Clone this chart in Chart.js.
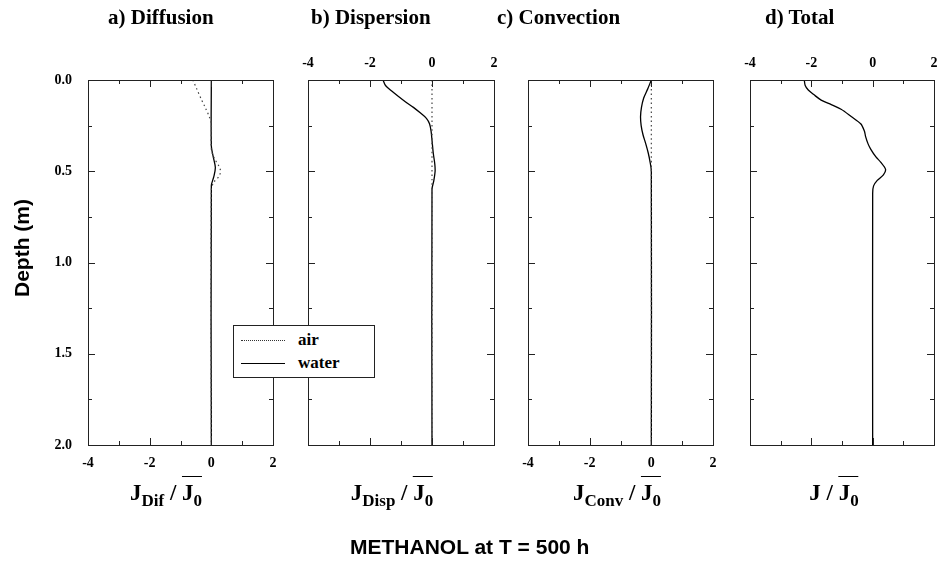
<!DOCTYPE html>
<html>
<head>
<meta charset="utf-8">
<script src="https://cdn.jsdelivr.net/npm/chart.js@4"></script>
<style>
  body { margin: 0; background: #fff; }
  #wrap { position: relative; width: 942px; height: 572px; overflow: hidden; }
  canvas { position: absolute; left: 0; top: 0; }
  .t { position: absolute; font: bold 21px "Liberation Serif", serif; color: #000; white-space: nowrap; z-index: 5; }
  .xl { position: absolute; font: bold 23px "Liberation Serif", serif; color: #000; white-space: nowrap;
        transform: translateX(-50%); line-height: 1; z-index: 5; }
  .xl sub { font-size: 17px; vertical-align: -6px; line-height: 1; }
  .bar { display: inline-block; border-top: 1.5px solid #000; padding-top: 4px; line-height: 1; }
  .sans { position: absolute; font: bold 21px "Liberation Sans", Arial, sans-serif; color: #000; white-space: nowrap; z-index: 5; }
  #legend { position: absolute; left: 233px; top: 325px; width: 140px; height: 51px; border: 1px solid #222;
            background: #fff; z-index: 6; font: bold 17px "Liberation Serif", serif; }
  #legend .row { position: absolute; left: 0; height: 20px; width: 140px; }
  #legend .smp { position: absolute; left: 7px; top: 10px; width: 44px; height: 0; }
  #legend .lab { position: absolute; left: 64px; top: 0; line-height: 20px; }
</style>
</head>
<body>
<div id="wrap">
  <canvas id="pa" width="942" height="572"></canvas>
  <canvas id="pb" width="942" height="572"></canvas>
  <canvas id="pc" width="942" height="572"></canvas>
  <canvas id="pd" width="942" height="572"></canvas>

  <div class="t" style="left:108px; top:5px">a) Diffusion</div>
  <div class="t" style="left:311px; top:5px">b) Dispersion</div>
  <div class="t" style="left:497px; top:5px">c) Convection</div>
  <div class="t" style="left:765px; top:5px">d) Total</div>

  <div class="xl" style="left:166px; top:476px">J<sub>Dif</sub> / <span class="bar">J<sub>0</sub></span></div>
  <div class="xl" style="left:392px; top:476px">J<sub>Disp</sub> / <span class="bar">J<sub>0</sub></span></div>
  <div class="xl" style="left:617px; top:476px">J<sub>Conv</sub> / <span class="bar">J<sub>0</sub></span></div>
  <div class="xl" style="left:834px; top:476px">J / <span class="bar">J<sub>0</sub></span></div>

  <div class="sans" style="left:350px; top:535px">METHANOL at T = 500 h</div>
  <div class="sans" style="left:22px; top:248px; transform: translate(-50%, -50%) rotate(-90deg);">Depth (m)</div>

  <div id="legend">
    <div class="row" style="top:4px"><div class="smp" style="border-top:1.5px dotted #333"></div><span class="lab">air</span></div>
    <div class="row" style="top:27px"><div class="smp" style="border-top:1.3px solid #000"></div><span class="lab">water</span></div>
  </div>
</div>

<script>
// depth axis (m) and normalised flux values
const xTickVals = [-4, -3, -2, -1, 0, 1, 2];
const yTickVals = [0, 0.25, 0.5, 0.75, 1, 1.25, 1.5, 1.75, 2];

// a) Diffusion
const depthDifAir = [0, 0.05, 0.1, 0.15, 0.2, 0.24, 0.38, 0.43, 0.47, 0.5, 0.53, 0.56, 0.6, 2.0];
const fluxDifAir  = [-0.6, -0.47, -0.34, -0.2, -0.07, 0, 0, 0.1, 0.24, 0.3, 0.24, 0.08, 0, 0];
const depthDifWater = [0, 0.36, 0.42, 0.48, 0.53, 0.58, 2.0];
const fluxDifWater  = [0, 0, 0.06, 0.13, 0.08, 0, 0];

// b) Dispersion
const depthDispAir = [0, 2.0];
const fluxDispAir  = [0, 0];
const depthDispWater = [0, 0.03, 0.06, 0.09, 0.12, 0.15, 0.18, 0.21, 0.24, 0.28, 0.33, 0.4, 0.46, 0.5, 0.55, 0.6, 2.0];
const fluxDispWater  = [-1.58, -1.5, -1.3, -1.08, -0.85, -0.6, -0.38, -0.18, -0.08, -0.03, 0, 0.04, 0.09, 0.1, 0.06, 0, 0];

// c) Convection
const depthConvAir = [0, 2.0];
const fluxConvAir  = [0, 0];
const depthConvWater = [0, 0.05, 0.1, 0.15, 0.2, 0.25, 0.3, 0.35, 0.4, 0.45, 0.5, 2.0];
const fluxConvWater  = [0, -0.12, -0.25, -0.32, -0.35, -0.33, -0.27, -0.18, -0.1, -0.04, 0, 0];

// d) Total
const depthTotal = [0, 0.03, 0.055, 0.08, 0.11, 0.135, 0.16, 0.2, 0.24, 0.28, 0.31, 0.35, 0.38, 0.42, 0.45, 0.49, 0.52, 0.55, 0.58, 0.62, 2.0];
const fluxTotal  = [-2.23, -2.2, -2.1, -1.92, -1.68, -1.35, -1.03, -0.7, -0.39, -0.27, -0.23, -0.15, -0.06, 0.1, 0.26, 0.42, 0.35, 0.15, 0.03, 0, 0];

const W = 942, H = 572;
const tickFont = { family: 'Liberation Serif', size: 14, weight: 'bold' };

function pts(depth, flux) {
  return depth.map((d, i) => ({ x: flux[i], y: d }));
}

function airSet(depth, flux) {
  return { label: 'air', data: pts(depth, flux), showLine: true, pointRadius: 0,
    borderColor: '#444', borderWidth: 1.2, borderDash: [1.5, 3], tension: 0.3 };
}
function waterSet(depth, flux) {
  return { label: 'water', data: pts(depth, flux), showLine: true, pointRadius: 0,
    borderColor: '#000', borderWidth: 1.3, tension: 0.3 };
}

// frame with inward ticks on all four sides
const frameTicks = {
  id: 'frameTicks',
  afterDatasetsDraw(chart) {
    const { ctx, chartArea: a, scales: { x, y } } = chart;
    ctx.save();
    ctx.strokeStyle = '#222';
    ctx.lineWidth = 1;
    ctx.strokeRect(a.left + 0.5, a.top + 0.5, a.right - a.left, a.bottom - a.top);
    ctx.beginPath();
    xTickVals.forEach(v => {
      const px = Math.round(x.getPixelForValue(v)) + 0.5;
      const len = v % 2 === 0 ? 7 : 4;
      ctx.moveTo(px, a.top); ctx.lineTo(px, a.top + len);
      ctx.moveTo(px, a.bottom); ctx.lineTo(px, a.bottom - len);
    });
    yTickVals.forEach(v => {
      const py = Math.round(y.getPixelForValue(v)) + 0.5;
      const len = (v * 2) % 1 === 0 ? 7 : 4;
      ctx.moveTo(a.left, py); ctx.lineTo(a.left + len, py);
      ctx.moveTo(a.right, py); ctx.lineTo(a.right - len, py);
    });
    ctx.stroke();
    ctx.restore();
  }
};

function makePanel(id, box, datasets, xPos, showY) {
  const xH = 30, yW = 45;
  new Chart(document.getElementById(id), {
    type: 'scatter',
    data: { datasets: datasets },
    options: {
      responsive: false,
      animation: false,
      devicePixelRatio: 1,
      layout: {
        autoPadding: false,
        padding: {
          left: box.left - yW,
          right: W - box.right,
          top: box.top - (xPos === 'top' ? xH : 0),
          bottom: H - box.bottom - (xPos === 'bottom' ? xH : 0)
        }
      },
      plugins: { legend: { display: false }, tooltip: { enabled: false } },
      scales: {
        x: {
          type: 'linear', position: xPos, min: -4, max: 2,
          afterFit: s => { s.height = xH; s.paddingLeft = 0; s.paddingRight = 0; },
          grid: { display: false, drawTicks: false, tickLength: 0 },
          border: { display: false },
          ticks: { stepSize: 2, color: '#000', font: tickFont, padding: xPos === 'top' ? 8 : 10, maxRotation: 0 }
        },
        y: {
          type: 'linear', reverse: true, min: 0, max: 2,
          afterFit: s => { s.width = yW; s.paddingTop = 0; s.paddingBottom = 0; },
          grid: { display: false, drawTicks: false, tickLength: 0 },
          border: { display: false },
          ticks: { display: showY, stepSize: 0.5, color: '#000', font: { family: 'Liberation Serif', size: 14, weight: 'bold' },
                   padding: 16, callback: v => v.toFixed(1) }
        }
      }
    },
    plugins: [frameTicks]
  });
}

makePanel('pa', { left: 88, right: 273, top: 80, bottom: 445 },
  [airSet(depthDifAir, fluxDifAir), waterSet(depthDifWater, fluxDifWater)], 'bottom', true);
makePanel('pb', { left: 308, right: 494, top: 80, bottom: 445 },
  [airSet(depthDispAir, fluxDispAir), waterSet(depthDispWater, fluxDispWater)], 'top', false);
makePanel('pc', { left: 528, right: 713, top: 80, bottom: 445 },
  [airSet(depthConvAir, fluxConvAir), waterSet(depthConvWater, fluxConvWater)], 'bottom', false);
makePanel('pd', { left: 750, right: 934, top: 80, bottom: 445 },
  [waterSet(depthTotal, fluxTotal)], 'top', false);
</script>
</body>
</html>
